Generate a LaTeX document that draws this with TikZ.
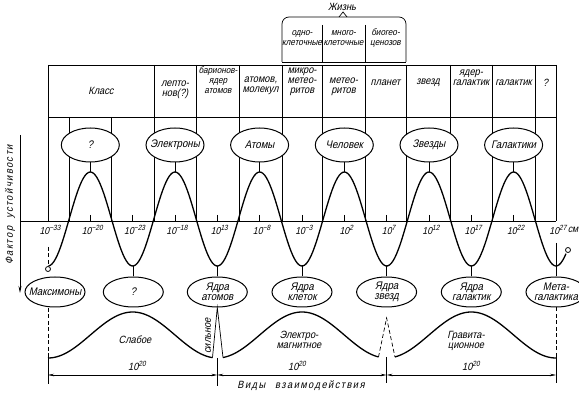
\documentclass[tikz,border=0pt]{standalone}
\usepackage{fontspec}
\setmainfont[FakeStretch=0.88,FakeSlant=0.22]{Liberation Sans}
\usepackage{tikz}
\usetikzlibrary{shapes.geometric,arrows.meta}
\newcommand{\pw}[1]{10\raisebox{0.7ex}{\fontsize{7.5}{7.5}\selectfont #1}}

\begin{document}
\begin{tikzpicture}[x=1pt,y=1pt,yscale=-1,line width=0.7pt,
  wave/.style={line width=1.3pt},
  ell/.style={draw,ellipse,fill=white,line width=1pt,inner sep=0pt,minimum width=58pt,minimum height=34pt},
  ellb/.style={ell,minimum width=60pt,minimum height=30pt},
  txt/.style={font=\fontsize{10.5}{10}\selectfont,align=center,inner sep=0pt},
  stxt/.style={font=\fontsize{9.3}{10}\selectfont,align=center,inner sep=0pt},
  etxt/.style={font=\fontsize{11}{10.5}\selectfont,align=center,inner sep=0pt},
  num/.style={font=\fontsize{10}{10}\selectfont,inner sep=0pt},
  dimline/.style={{Stealth[length=6pt,width=2.5pt]}-{Stealth[length=6pt,width=2.5pt]},line width=0.6pt},
  dsh/.style={dash pattern=on 4pt off 2.5pt}]
\useasboundingbox (0,0) rectangle (579,395);
%Table
\draw (48,65) -- (556,65);
\draw (48,117) -- (556,117);
\draw (48,65) -- (48,221);
\draw (556,65) -- (556,221);
\foreach \c in {154,196,239,282,322,365,406,450,492,535}
  \draw (\c,65) -- (\c,221);
\foreach \c in {69,111}
  \draw (\c,117) -- (\c,221);
\draw (282,62) -- (406,62);
\draw [rounded corners=7pt] (282,62) -- (282,17) -- (406,17) -- (406,62);
\draw (339,17) -- (343,12) -- (347,17);
\draw (322,25) -- (322,62);
\draw (365,25) -- (365,62);
%Axes
\draw (20,221) -- (556,221);
\draw [-{Stealth[length=7pt,width=3pt]}] (20,135) -- (20,293);
\foreach \k in {1,...,11}
  \draw ({48+42.33*\k},215) -- ++(0,6);
\foreach \k/\e in {0/−33,1/−20,2/−23,3/−18,4/13,5/−8,6/−3,7/2,8/7,9/12,10/17,11/22,12/27}
  \node [num] (t\k) at ({50+42.33*\k},230) {\pw{\e}};
\node [num] (cm) at (573,230) {см};
%Curves
\draw [wave] plot [domain=48.5:566,samples=300] (\x,{219-47*cos(4.2518*(\x-90.33))});
\draw [wave] plot [domain=48:212.5,samples=120] (\x,{335+23*cos(2.1261*(\x-48))});
\draw [wave] plot [domain=223:378.5,samples=120] (\x,{335+23*cos(2.1261*(\x-48))});
\draw [wave] plot [domain=395:556,samples=120] (\x,{335+23*cos(2.1261*(\x-48))});
\coordinate (sa) at (212.5,357.6);
\coordinate (sb) at (223,357.5);
\coordinate (sc) at (378.5,357);
\coordinate (sd) at (395,357);
\coordinate (apex) at (386.6,318);
%Upper ellipses
\node [ell] (q) at (90.3,145) {};
\node [etxt] (qt) at (q) {?};
\node [ell] (elec) at (175,145) {};
\node [etxt] (elect) at (elec) {Электроны};
\node [ell] (atom) at (259.6,145) {};
\node [etxt] (atomt) at (atom) {Атомы};
\node [ell] (man) at (344.3,145) {};
\node [etxt] (mant) at (man) {Человек};
\node [ell] (star) at (429,145) {};
\node [etxt] (start) at (star) {Звезды};
\node [ell] (gal) at (513.6,145) {};
\node [etxt] (galt) at (gal) {Галактики};
\foreach \n/\x in {q/90.3,elec/175,atom/259.6,man/344.3,star/429,gal/513.6}{
  \coordinate (pk-\n) at (\x,172);
  \draw (\n.south) -- (pk-\n);
}
%Lower ellipses
\node [ellb] (maxi) at (55,292) {};
\node [etxt] (maxit) at (maxi) {Максимоны};
\node [ellb] (q2) at (133.3,292) {};
\node [etxt] (q2t) at (q2) {?};
\node [ellb] (nucA) at (217.3,292) {};
\node [etxt] (nucAt) at (nucA) {Ядра\\атомов};
\node [ellb] (nucC) at (302,292) {};
\node [etxt] (nucCt) at (nucC) {Ядра\\клеток};
\node [ellb] (nucS) at (386.6,292) {};
\node [etxt] (nucSt) at (nucS) {Ядра\\звезд};
\node [ellb] (nucG) at (471.3,292) {};
\node [etxt] (nucGt) at (nucG) {Ядра\\галактик};
\node [ellb] (meta) at (556,292) {};
\node [etxt] (metat) at (meta) {Мета-\\галактика};
\foreach \n/\x in {q2/133.3,nucA/217.3,nucC/302,nucS/386.6,nucG/471.3}{
  \coordinate (vl-\n) at (\x,266);
  \draw (vl-\n) -- (\n.north);
}
\node [circle,draw,fill=white,inner sep=0pt,minimum size=5pt,line width=0.8pt] (endL) at (48,269) {};
\node [circle,draw,fill=white,inner sep=0pt,minimum size=5pt,line width=0.8pt] (endR) at (568,250) {};
\coordinate (topL) at (48,247);
\coordinate (topR) at (556,243);
\draw [dsh] (topL) -- (endL.north);
\draw (topR) -- (meta.north);
%Interactions
\draw (sa) -- (nucA.south) -- (sb);
\draw [dsh] (sc) -- (apex) -- (sd);
\draw [dsh] (48,308) -- (48,357);
\draw [dsh] (meta.south) -- (556,357);
\draw (48,357) -- (48,384);
\draw (217.3,358) -- (217.3,386);
\draw (386.6,357) -- (386.6,383);
\draw (556,357) -- (556,383);
\draw [dimline] (48,375) -- (217.3,375);
\draw [dimline] (217.3,375) -- (386.6,375);
\draw [dimline] (386.6,375) -- (556,375);
%Text
\node [txt] (life) at (342,7) {Жизнь};
\node [stxt] (uni) at (302,38) {одно-\\клеточные};
\node [stxt] (multi) at (343.5,38) {много-\\клеточные};
\node [stxt] (bio) at (385.5,38) {биогео-\\ценозов};
\node [txt] (cls) at (101,91) {Класс};
\node [txt] (lep) at (175,90) {лепто-\\нов(?)};
\node [stxt] (bar) at (218,80) {барионов-\\ядер\\атомов};
\node [txt] (mol) at (260.5,85.5) {атомов,\\молекул};
\node [txt] (mmet) at (302,82) {микро-\\метео-\\ритов};
\node [txt] (met) at (343.5,87) {метео-\\ритов};
\node [txt] (pl) at (385.5,83) {планет};
\node [txt] (zv) at (428,83) {звезд};
\node [txt] (ngal) at (471,77.5) {ядер-\\галактик};
\node [txt] (cgal) at (513.5,83) {галактик};
\node [txt] (unk) at (545.5,83) {?};
\node [txt] (weak) at (135,340) {Слабое};
\node [txt] (strong) at (208,336) [rotate=90] {сильное};
\node [txt] (em) at (299,340) {Электро-\\магнитное};
\node [txt] (grav) at (466,341) {Гравита-\\ционное};
\node [txt] (w1) at (137,366) {\pw{20}};
\node [txt] (w2) at (297,366) {\pw{20}};
\node [txt] (w3) at (471,366) {\pw{20}};
\node [txt] (kinds) at (301,386) {\addfontfeature{LetterSpace=14}Виды\hspace{10pt}взаимодействия};
\node [txt] (factor) at (10,205) [rotate=90] {\addfontfeature{LetterSpace=14}Фактор\hspace{8pt}устойчивости};
\end{tikzpicture}
\end{document}
